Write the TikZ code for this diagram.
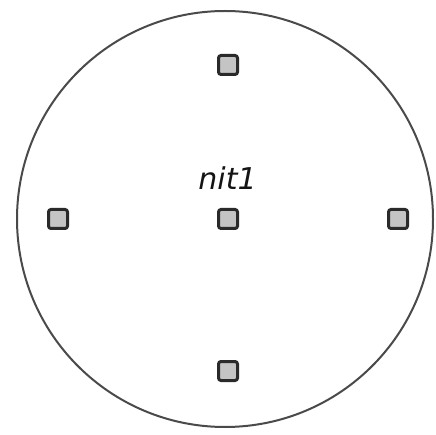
\documentclass[tikz,border=0pt]{standalone}
\usepackage{fontspec}
\usepackage{xcolor}
\newfontfamily\nitFont{DejaVu Sans}
\definecolor{nitRim}{HTML}{4A4A4A}
\definecolor{nitEdge}{HTML}{2A2A2A}
\definecolor{nitFill}{HTML}{C4C4C4}
\tikzset{
  nitCell/.style={draw=nitEdge, fill=nitFill, line width=3pt, rounded corners=2.5pt,
    minimum size=19pt, inner sep=0pt},
}

\begin{document}
\begin{tikzpicture}[x=1pt,y=-1pt]
\useasboundingbox (0,0) rectangle (436,435);
\draw[nitRim, line width=2pt] (225,219) circle (208);
\node[font={\nitFont\itshape\fontsize{30}{32}\selectfont}, text=black!92, anchor=base] (nitLabel) at (227.5,190) {nit1};
\node[nitCell] (cellN) at (228,65) {};
\node[nitCell] (cellW) at (58,219) {};
\node[nitCell] (cellC) at (228,219) {};
\node[nitCell] (cellE) at (398,219) {};
\node[nitCell] (cellS) at (228,371) {};
\end{tikzpicture}
\end{document}
